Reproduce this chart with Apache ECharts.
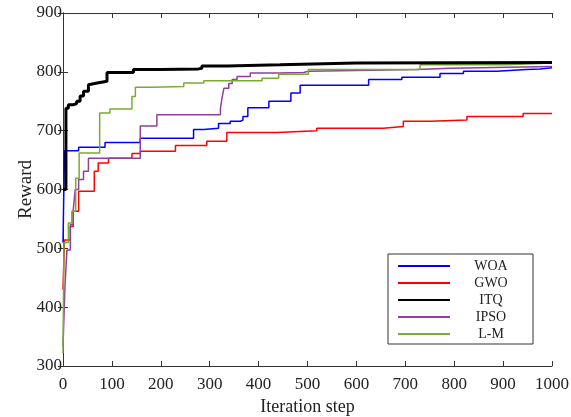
<!DOCTYPE html>
<html>
<head>
<meta charset="utf-8">
<script src="https://cdn.jsdelivr.net/npm/echarts@6/dist/echarts.min.js"></script>
<style>
  html, body { margin: 0; padding: 0; background: #fff; }
  #chart { width: 571px; height: 417px; }
</style>
</head>
<body>
<div id="chart"></div>
<script>
// best reward so far (iteration where a step happens, new value)
const woaIter  = [0, 3, 32, 86, 158, 267, 288, 318, 342, 363, 368, 378, 421, 466, 485, 625, 693, 771, 819, 887, 948, 976, 1000];
const woaVal   = [510, 666, 672, 680, 687, 702, 704, 712, 716, 718, 724, 739, 750, 764, 777, 787, 791, 797, 801, 804, 805, 807, 807];

const gwoIter  = [0, 3, 15, 21, 32, 64, 72, 93, 141, 158, 230, 294, 335, 437, 519, 655, 696, 751, 826, 941, 1000];
const gwoVal   = [430, 514, 537, 563, 597, 631, 645, 653, 661, 665, 675, 682, 697, 700, 704, 707, 716, 718, 724, 729, 729];

const itqIter  = [0, 6, 11, 21, 28, 35, 42, 52, 56, 70, 90, 144, 200, 277, 284, 335, 444, 600, 1000];
const itqVal   = [600, 738, 744, 746, 750, 759, 767, 778, 781, 784, 799, 804, 805, 806, 810, 812, 815, 816, 816];

const ipsoIter = [0, 4, 8, 15, 21, 25, 32, 42, 52, 158, 192, 322, 325, 329, 339, 346, 356, 383, 441, 492, 502, 723, 792, 1000];
const ipsoVal  = [333, 435, 497, 540, 566, 600, 617, 631, 653, 708, 727, 738, 755, 772, 780, 787, 792, 798, 799, 801, 804, 806, 809, 809];

const lmIter   = [0, 2, 11, 18, 26, 33, 75, 96, 141, 148, 182, 247, 288, 407, 441, 502, 730, 907, 1000];
const lmVal    = [322, 510, 543, 563, 619, 662, 730, 737, 758, 774, 775, 781, 785, 789, 796, 804, 812, 815, 815];

const names = ['WOA', 'GWO', 'ITQ', 'IPSO', 'L-M'];

const pairs = (xs, ys) => xs.map((x, i) => [x, ys[i]]);

const font = '"Times New Roman", "Liberation Serif", serif';

const chart = echarts.init(document.getElementById('chart'));

function line(name, xs, ys, color, width) {
    return {
        name: name,
        type: 'line',
        step: 'end',
        data: pairs(xs, ys),
        symbol: 'none',
        lineStyle: { color: color, width: width },
        itemStyle: { color: color },
        z: name === 'ITQ' ? 3 : 2
    };
}

const tickStyle = { inside: true, length: 5, lineStyle: { color: '#333' } };
const lineAxis = { show: true, lineStyle: { color: '#333', width: 1 } };

chart.setOption({
    animation: false,
    backgroundColor: '#fff',
    grid: { left: 63, right: 19, top: 13, bottom: 51, outerBoundsMode: 'none', containLabel: false },
    legend: {
        data: names,
        orient: 'vertical',
        left: 388,
        top: 254,
        padding: [5, 6, 3, 10],
        itemGap: 3,
        itemWidth: 52,
        itemHeight: 2,
        icon: 'rect',
        borderColor: '#333',
        borderWidth: 1,
        backgroundColor: '#fff',
        formatter: '{a|{name}}',
        textStyle: {
            rich: {
                a: {
                    fontFamily: font,
                    fontSize: 14,
                    color: '#222',
                    width: 72,
                    align: 'center',
                    lineHeight: 14
                }
            }
        }
    },
    xAxis: [
        {
            type: 'value',
            min: 0, max: 1000, interval: 100,
            name: 'Iteration step',
            nameLocation: 'middle',
            nameGap: 32,
            nameMoveOverlap: false,
            nameTextStyle: { fontFamily: font, fontSize: 18, color: '#222' },
            axisLine: lineAxis,
            axisTick: tickStyle,
            axisLabel: { fontFamily: font, fontSize: 17, color: '#222', margin: 10, formatter: v => String(v) },
            splitLine: { show: false }
        },
        {
            type: 'value', position: 'top',
            min: 0, max: 1000, interval: 100,
            axisLine: lineAxis,
            axisTick: tickStyle,
            axisLabel: { show: false },
            splitLine: { show: false }
        }
    ],
    yAxis: [
        {
            type: 'value',
            min: 300, max: 900, interval: 100,
            name: 'Reward',
            nameLocation: 'middle',
            nameGap: 27,
            nameMoveOverlap: false,
            nameTextStyle: { fontFamily: font, fontSize: 19, color: '#222' },
            axisLine: lineAxis,
            axisTick: tickStyle,
            axisLabel: { fontFamily: font, fontSize: 17, color: '#222', margin: 1 },
            splitLine: { show: false }
        },
        {
            type: 'value', position: 'right',
            min: 300, max: 900, interval: 100,
            axisLine: lineAxis,
            axisTick: tickStyle,
            axisLabel: { show: false },
            splitLine: { show: false }
        }
    ],
    series: [
        line('WOA', woaIter, woaVal, '#0000ff', 1.5),
        line('GWO', gwoIter, gwoVal, '#ff0000', 1.5),
        line('ITQ', itqIter, itqVal, '#000000', 3),
        line('IPSO', ipsoIter, ipsoVal, '#8e3fa0', 1.5),
        line('L-M', lmIter, lmVal, '#77ac30', 1.5)
    ]
});

window.addEventListener('resize', () => chart.resize());
</script>
</body>
</html>
